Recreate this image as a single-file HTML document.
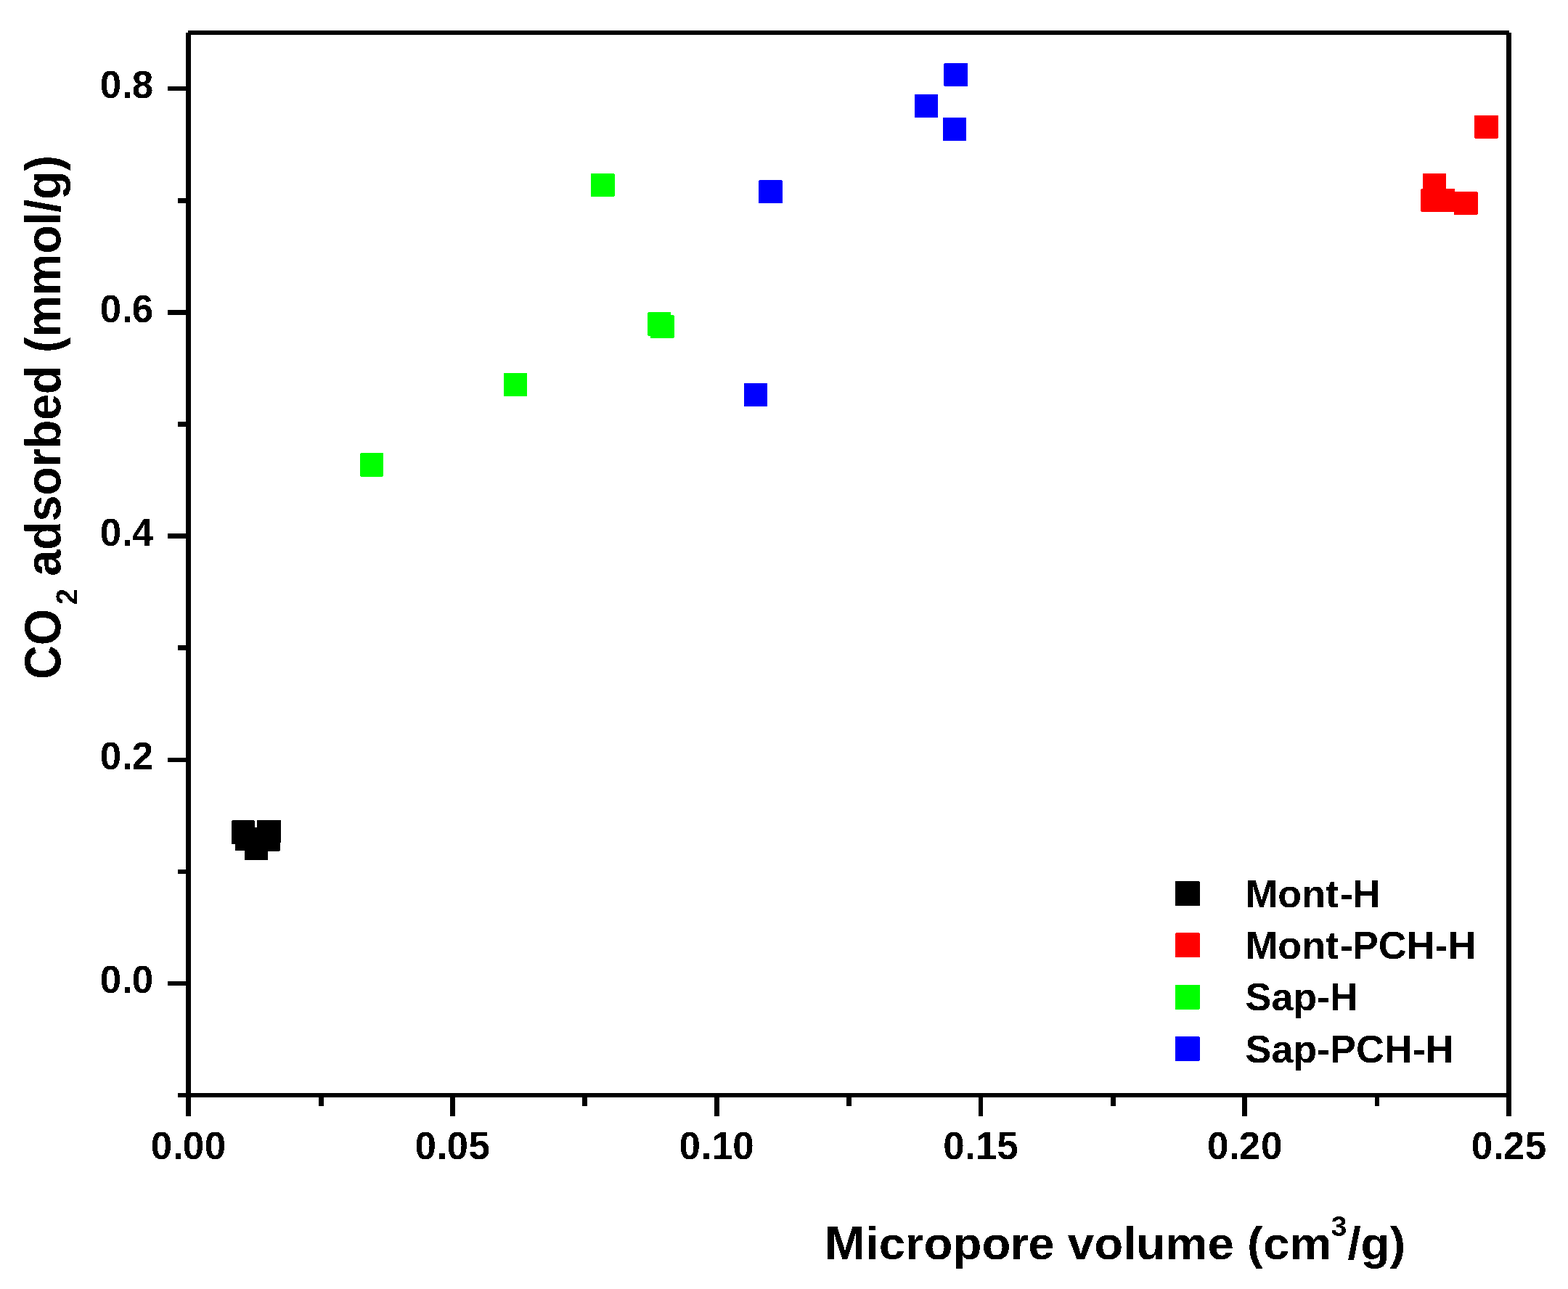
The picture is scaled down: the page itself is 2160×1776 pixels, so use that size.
<!DOCTYPE html>
<html lang="en"><head><meta charset="utf-8"><title>CO2 adsorbed vs micropore volume</title>
<style>
html,body{margin:0;padding:0;background:#fff;}
body{width:2160px;height:1776px;overflow:hidden;}
svg{display:block;position:absolute;left:0;top:0;}
text{font-family:"Liberation Sans",sans-serif;font-weight:bold;fill:#000;}
.fr{fill:#000;shape-rendering:crispEdges;}
.mk{shape-rendering:crispEdges;}
</style></head><body>
<svg width="2160" height="1776" viewBox="0 0 2160 1776" role="img" aria-label="Scatter plot of CO2 adsorbed (mmol/g) versus micropore volume (cm3/g)">
<rect x="0" y="0" width="2160" height="1776" fill="#ffffff"/>
<defs><filter id="crisp" x="0" y="0" width="2160" height="1776" filterUnits="userSpaceOnUse" color-interpolation-filters="sRGB"><feComponentTransfer><feFuncA type="discrete" tableValues="0 1"/></feComponentTransfer></filter></defs>
<g class="fr">
<rect x="259" y="42" width="1820" height="6"/>
<rect x="256" y="1506" width="1826" height="6"/>
<rect x="256" y="45" width="7" height="1493"/>
<rect x="2075" y="45" width="7" height="1493"/>
<rect x="620" y="1512" width="7" height="26"/>
<rect x="984" y="1512" width="7" height="26"/>
<rect x="1348" y="1512" width="6" height="26"/>
<rect x="1711" y="1512" width="7" height="26"/>
<rect x="439" y="1512" width="7" height="12"/>
<rect x="802" y="1512" width="7" height="12"/>
<rect x="1166" y="1512" width="7" height="12"/>
<rect x="1530" y="1512" width="7" height="12"/>
<rect x="1894" y="1512" width="6" height="12"/>
<rect x="231" y="119" width="25" height="6"/>
<rect x="231" y="427" width="25" height="7"/>
<rect x="231" y="735" width="25" height="7"/>
<rect x="231" y="1044" width="25" height="6"/>
<rect x="231" y="1352" width="25" height="6"/>
<rect x="245" y="273" width="11" height="7"/>
<rect x="245" y="581" width="11" height="7"/>
<rect x="245" y="889" width="11" height="7"/>
<rect x="245" y="1198" width="11" height="6"/>
<rect x="245" y="1506" width="11" height="6"/>
</g>
<g class="mk">
<path d="M319 1131H320V1130H350V1131H351V1163H319Z" fill="#000000"/>
<path d="M354 1130H387V1161H386V1162H354Z" fill="#000000"/>
<rect x="324" y="1140" width="32" height="32" fill="#000000"/>
<rect x="337" y="1153" width="32" height="32" fill="#000000"/>
<path d="M354 1141H386V1172H385V1173H354Z" fill="#000000"/>
<path d="M2031 159H2064V190H2063V191H2032V190H2031Z" fill="#ff0000"/>
<rect x="1960" y="239" width="32" height="32" fill="#ff0000"/>
<path d="M1957 261H1958V260H1990V292H1958V291H1957Z" fill="#ff0000"/>
<rect x="1972" y="260" width="32" height="32" fill="#ff0000"/>
<path d="M2003 264H2035V265H2036V295H2035V296H2003Z" fill="#ff0000"/>
<path d="M814 239H846V240H847V270H846V271H814Z" fill="#00ff00"/>
<rect x="694" y="514" width="32" height="32" fill="#00ff00"/>
<path d="M892 431H893V430H924V463H893V462H892Z" fill="#00ff00"/>
<path d="M896 434H928V435H929V465H928V466H896Z" fill="#00ff00"/>
<path d="M496 625H497V624H528V656H527V657H497V656H496Z" fill="#00ff00"/>
<path d="M1300 88H1301V87H1333V119H1301V118H1300Z" fill="#0000ff"/>
<rect x="1260" y="130" width="32" height="32" fill="#0000ff"/>
<rect x="1299" y="162" width="32" height="32" fill="#0000ff"/>
<path d="M1045 249H1046V248H1077V249H1078V280H1045Z" fill="#0000ff"/>
<rect x="1025" y="528" width="32" height="32" fill="#0000ff"/>
</g>
<g class="mk">
<path d="M1619 1214H1652V1215H1653V1248H1619Z" fill="#000000"/>
<path d="M1619 1286H1620V1285H1652V1286H1653V1319H1619Z" fill="#ff0000"/>
<path d="M1619 1357H1653V1390H1652V1391H1619Z" fill="#00ff00"/>
<path d="M1619 1428H1652V1429H1653V1461H1652V1462H1619Z" fill="#0000ff"/>
</g>
<g filter="url(#crisp)">
<text transform="translate(1715.50 1250.00) scale(1.0060 1)" font-size="53.50" text-anchor="start" dx="0 0 0 0 2 -1">Mont-H</text>
<text transform="translate(1715.50 1321.00) scale(1.0060 1)" font-size="53.50" text-anchor="start" dx="0 0 0 0 2 -1">Mont-PCH-H</text>
<text transform="translate(1715.50 1392.00) scale(1.0060 1)" font-size="53.50" text-anchor="start" dx="0">Sap-H</text>
<text transform="translate(1715.50 1464.00) scale(1.0060 1)" font-size="53.50" text-anchor="start" dx="0">Sap-PCH-H</text>
<text transform="translate(207.80 1596.60) scale(1.0000 1)" font-size="53.00" letter-spacing="0.63" dx="0 0 -1.60">0.00</text>
<text transform="translate(571.60 1596.60) scale(1.0000 1)" font-size="53.00" letter-spacing="0.63" dx="0 0 -1.60">0.05</text>
<text transform="translate(935.40 1596.60) scale(1.0000 1)" font-size="53.00" letter-spacing="0.63" dx="0 0 -0.60 -1">0.10</text>
<text transform="translate(1299.20 1596.60) scale(1.0000 1)" font-size="53.00" letter-spacing="0.63" dx="0 0 -0.60 -1">0.15</text>
<text transform="translate(1663.00 1596.60) scale(1.0000 1)" font-size="53.00" letter-spacing="0.63" dx="0 0 -1.60">0.20</text>
<text transform="translate(2026.80 1596.60) scale(1.0000 1)" font-size="53.00" letter-spacing="0.63" dx="0 0 -1.60">0.25</text>
<text transform="translate(137.80 134.60) scale(1.0000 1)" font-size="53.00" letter-spacing="0.63" dx="0 0 -1.60">0.8</text>
<text transform="translate(137.80 443.60) scale(1.0000 1)" font-size="53.00" letter-spacing="0.63" dx="0 0 -1.60">0.6</text>
<text transform="translate(137.80 751.60) scale(1.0000 1)" font-size="53.00" letter-spacing="0.63" dx="0 0 -1.60">0.4</text>
<text transform="translate(137.80 1059.60) scale(1.0000 1)" font-size="53.00" letter-spacing="0.63" dx="0 0 -1.60">0.2</text>
<text transform="translate(137.80 1367.60) scale(1.0000 1)" font-size="53.00" letter-spacing="0.63" dx="0 0 -1.60">0.0</text>
<text transform="translate(1136.00 1735.20) scale(1.0305 1)" font-size="63.50" dx="0 0.8 0 0 0 0 0 -0.7 -0.9"><tspan font-size="65.30" textLength="54.00" lengthAdjust="spacingAndGlyphs">M</tspan>icropore volume (cm<tspan font-size="38.30" dx="-1.00" dy="-32.50">3</tspan><tspan dx="1.00" dy="32.50">/g)</tspan></text>
<text transform="translate(83.40 936.00) rotate(-90) scale(0.9540 1)" font-size="68.00"><tspan font-size="70.30" textLength="102.00" lengthAdjust="spacingAndGlyphs">CO</tspan><tspan font-size="42.00" dx="5.80" dy="23.10">2</tspan><tspan dx="-0.60" dy="-23.10" letter-spacing="-0.260"> adsorbed (mmol/g)</tspan></text>
</g>
</svg>
</body></html>
